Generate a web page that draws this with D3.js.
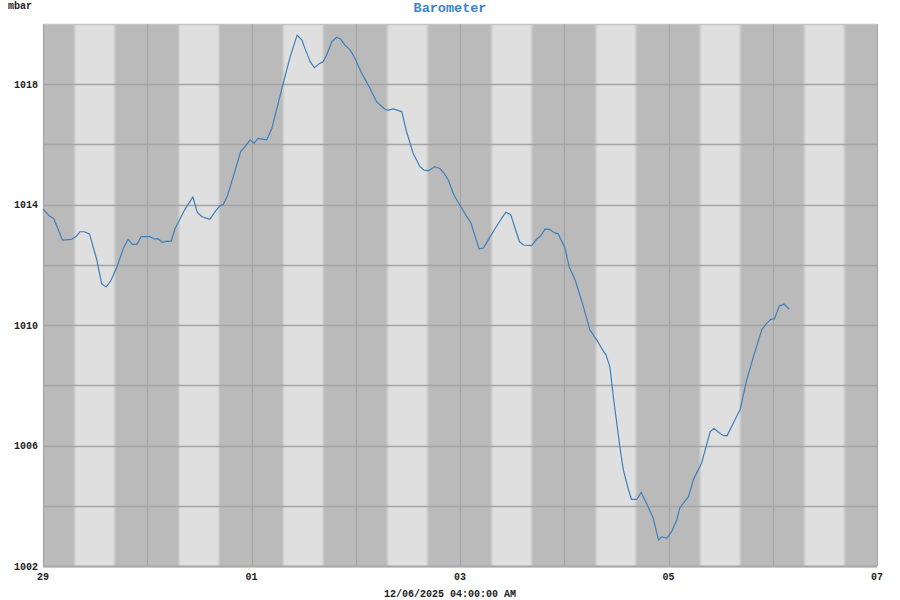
<!DOCTYPE html>
<html lang="en">
<head>
<meta charset="UTF-8">
<title>Barometer</title>
<script src="https://cdn.jsdelivr.net/npm/d3@7"></script>
<style>
    body { margin: 0; background: #fff; overflow: hidden; }
    svg text { font-family: "Liberation Mono", "DejaVu Sans Mono", monospace; font-weight: bold; }
</style>
</head>
<body>
<svg id="chart" width="900" height="600"></svg>
<script>
    // hours since 29 Nov 2025 00:00
    const hours = [0.0, 1.45, 2.5, 4.5, 6.6, 7.6, 8.5, 9.5, 10.7, 12.4, 13.5, 14.5, 15.6, 17.0, 18.5, 19.6,
        20.6, 21.6, 22.6, 23.9, 24.6, 25.6, 26.5, 27.5, 28.5, 29.5, 30.4, 31.4, 32.5, 34.5, 35.5, 36.6,
        38.4, 39.8, 40.7, 41.5, 42.4, 43.8, 45.5, 46.5, 47.7, 48.6, 49.5, 51.5, 52.7, 55.3, 56.9, 58.5,
        59.6, 60.3, 61.5, 62.5, 63.4, 64.5, 65.3, 66.5, 67.6, 68.5, 69.5, 70.7, 71.8, 73.4, 75.3, 76.8,
        78.7, 79.5, 80.6, 82.6, 83.7, 85.2, 86.8, 87.7, 88.7, 90.2, 91.4, 92.3, 93.3, 94.6, 96.2, 97.5,
        98.5, 99.5, 100.4, 101.4, 102.5, 104.1, 105.6, 106.6, 107.7, 108.7, 109.7, 110.6, 112.5, 113.7,
        114.6, 115.6, 116.6, 117.6, 118.6, 120.2, 121.1, 122.5, 124.3, 125.9, 127.5, 128.6, 129.6, 130.5,
        131.3, 132.8, 133.6, 134.7, 135.5, 136.7, 137.7, 139.3, 140.5, 141.7, 142.4, 143.6, 144.7, 145.9,
        146.6, 147.4, 148.6, 149.7, 151.6, 153.6, 154.5, 155.5, 156.6, 157.5, 158.9, 160.5, 162.0, 163.9,
        165.5, 166.6, 167.5, 168.4, 169.5, 170.6, 171.8];
    const pressure = [1013.86, 1013.63, 1013.53, 1012.82, 1012.85, 1012.94, 1013.10, 1013.10, 1013.03,
        1012.16, 1011.37, 1011.27, 1011.47, 1011.92, 1012.55, 1012.85, 1012.68, 1012.68, 1012.94, 1012.94,
        1012.94, 1012.86, 1012.87, 1012.75, 1012.79, 1012.78, 1013.21, 1013.49, 1013.80, 1014.26, 1013.75,
        1013.60, 1013.51, 1013.80, 1013.96, 1014.01, 1014.27, 1014.93, 1015.76, 1015.93, 1016.15, 1016.04,
        1016.20, 1016.15, 1016.54, 1018.03, 1018.91, 1019.63, 1019.47, 1019.19, 1018.75, 1018.55, 1018.66,
        1018.75, 1018.97, 1019.41, 1019.56, 1019.50, 1019.30, 1019.14, 1018.86, 1018.36, 1017.86, 1017.42,
        1017.17, 1017.14, 1017.18, 1017.09, 1016.42, 1015.71, 1015.26, 1015.15, 1015.13, 1015.26, 1015.20,
        1015.05, 1014.82, 1014.32, 1013.93, 1013.62, 1013.40, 1012.94, 1012.53, 1012.56, 1012.83, 1013.21,
        1013.55, 1013.75, 1013.66, 1013.21, 1012.77, 1012.66, 1012.64, 1012.86, 1012.97, 1013.19, 1013.18,
        1013.08, 1013.03, 1012.55, 1011.95, 1011.50, 1010.67, 1009.84, 1009.50, 1009.23, 1009.01, 1008.62,
        1007.62, 1005.96, 1005.19, 1004.58, 1004.21, 1004.21, 1004.45, 1003.97, 1003.58, 1002.86, 1002.97,
        1002.92, 1003.14, 1003.53, 1003.92, 1004.08, 1004.30, 1004.86, 1005.41, 1006.46, 1006.57, 1006.44,
        1006.33, 1006.33, 1006.74, 1007.20, 1008.18, 1009.12, 1009.86, 1010.06, 1010.19, 1010.21, 1010.63,
        1010.70, 1010.52];
    const yTicks = [1002, 1006, 1010, 1014, 1018];
    const xTickLabels = ["29", "01", "03", "05", "07"];

    const start = new Date(2025, 10, 29);
    const end = new Date(2025, 11, 7);
    const sunrise = 6.9, sunset = 16.9, twilight = 0.8; // hours of day

    const margin = {left: 43, right: 23, top: 24, bottom: 34};
    const W = 900, H = 600;
    const pw = W - margin.left - margin.right, ph = H - margin.top - margin.bottom;

    const svg = d3.select("#chart");
    const x = d3.scaleTime().domain([start, end]).range([0, pw]);
    const y = d3.scaleLinear().domain([1002, 1020]).range([ph, 0]);
    const hourDate = h => new Date(start.getTime() + h * 3600e3);

    const g = svg.append("g").attr("transform", `translate(${margin.left},${margin.top})`);

    // night background
    g.append("rect").attr("width", pw).attr("height", ph).attr("fill", "#bababa");

    // daylight bands with soft edges
    const dw = x(hourDate(sunset)) - x(hourDate(sunrise));
    const tw = x(hourDate(twilight)) - x(start);
    const grad = svg.append("defs").append("linearGradient").attr("id", "day");
    [[0, 0], [tw / dw, 1], [1 - tw / dw, 1], [1, 0]].forEach(s => {
        grad.append("stop").attr("offset", s[0]).attr("stop-color", "#dfdfdf").attr("stop-opacity", s[1]);
    });
    const days = d3.timeDay.range(start, end);
    g.selectAll(".day").data(days).enter().append("rect")
        .attr("x", d => x(d) + x(hourDate(sunrise)))
        .attr("width", dw)
        .attr("height", ph)
        .attr("fill", "url(#day)");

    // grid
    g.selectAll(".hgrid").data(d3.range(1002, 1021, 2)).enter().append("line")
        .attr("x1", 0).attr("x2", pw)
        .attr("y1", d => Math.round(y(d)) + 0.5).attr("y2", d => Math.round(y(d)) + 0.5)
        .attr("stroke", d => d == 1020 ? "#c4c4c4" : "#a4a4a4").attr("stroke-width", 1.3);
    g.selectAll(".vgrid").data(d3.timeDay.range(start, d3.timeDay.offset(end, 1))).enter().append("line")
        .attr("x1", d => Math.round(x(d)) + 0.5).attr("x2", d => Math.round(x(d)) + 0.5)
        .attr("y1", 0).attr("y2", ph)
        .attr("stroke", "#a4a4a4").attr("stroke-width", 1.1);
    g.append("line").attr("x1", 0).attr("x2", pw).attr("y1", ph + 0.5).attr("y2", ph + 0.5)
        .attr("stroke", "#aaaaaa").attr("stroke-width", 2);

    // pressure line
    const line = d3.line().x((d, i) => x(hourDate(hours[i]))).y(d => y(d));
    g.append("path").datum(pressure)
        .attr("d", line)
        .attr("fill", "none")
        .attr("stroke", "#3d7fbb")
        .attr("stroke-width", 1.2)
        .attr("stroke-linejoin", "round");

    // axes labels
    g.selectAll(".ylab").data(yTicks).enter().append("text")
        .attr("x", -5).attr("y", d => y(d)).attr("dy", "0.35em")
        .attr("text-anchor", "end").attr("font-size", "10px").attr("fill", "#222")
        .text(d => d);
    const xTicks = d3.timeDay.every(2).range(start, d3.timeDay.offset(end, 1));
    g.selectAll(".xlab").data(xTicks).enter().append("text")
        .attr("x", d => x(d)).attr("y", ph + 14)
        .attr("text-anchor", "middle").attr("font-size", "10px").attr("fill", "#222")
        .text((d, i) => xTickLabels[i]);

    svg.append("text").attr("x", 8).attr("y", 9).attr("font-size", "10px").attr("fill", "#222").text("mbar");
    svg.append("text").attr("x", W / 2).attr("y", 12).attr("text-anchor", "middle")
        .attr("font-size", "13.5px").attr("fill", "#3d84c6").text("Barometer");
    svg.append("text").attr("x", W / 2).attr("y", 597).attr("text-anchor", "middle")
        .attr("font-size", "10px").attr("fill", "#222").text("12/06/2025 04:00:00 AM");
</script>
</body>
</html>
